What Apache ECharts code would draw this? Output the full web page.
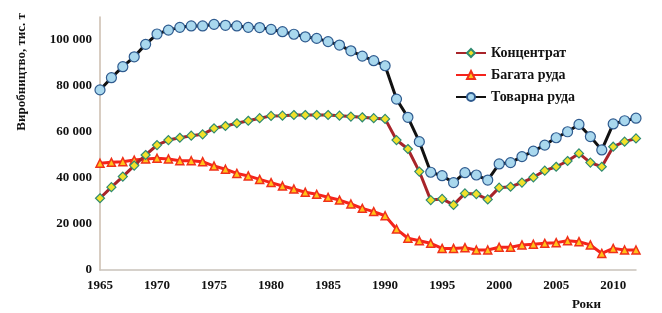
<!DOCTYPE html>
<html>
<head>
<meta charset="utf-8">
<script src="https://cdn.jsdelivr.net/npm/echarts@6/dist/echarts.min.js"></script>
<style>
  html, body { margin: 0; padding: 0; background: #fff; }
  #chart { width: 662px; height: 313px; }
</style>
</head>
<body>
<div id="chart"></div>
<script>
var years = [];
for (var y = 1965; y <= 2012; y++) years.push(y);

// Концентрат
var concentrate = [31200, 36000, 40600, 45400, 50000, 54300, 56500, 57500, 58400, 59000,
    61600, 62600, 63800, 64900, 66000, 67000, 67100, 67400, 67400, 67400,
    67400, 67100, 66700, 66400, 66000, 65700, 56500, 52600, 42800, 30400,
    30900, 28300, 33300, 33000, 30700, 35800, 36200, 38000, 40300, 43200,
    44900, 47400, 50700, 46700, 44900, 53600, 55800, 57200];

// Багата руда
var richOre = [46400, 46800, 47100, 47800, 48300, 48600, 48300, 47500, 47500, 47100,
    45200, 43800, 42000, 40900, 39400, 38000, 36500, 35200, 33800, 32900,
    31600, 30400, 28700, 26800, 25400, 23600, 17800, 13800, 12700, 11600,
    9400, 9400, 9700, 8700, 8700, 9900, 9900, 10900, 11200, 11600,
    11900, 12700, 12300, 10900, 7200, 9400, 8700, 8700];

// Товарна руда
var marketOre = [78300, 83600, 88400, 92700, 98100, 102600, 104300, 105500, 106100, 106100,
    106800, 106400, 106100, 105500, 105400, 104600, 103600, 102500, 101400, 100700,
    99300, 97800, 95300, 93000, 91000, 88800, 74300, 66400, 55800, 42500,
    41000, 38000, 42300, 41300, 39100, 46100, 46700, 49300, 51700, 54300,
    57500, 60100, 63300, 58000, 52200, 63500, 64900, 66000];

function pairs(vals) {
    return years.map(function (yr, i) { return [yr, vals[i]]; });
}

var font = 'Liberation Serif';
var chart = echarts.init(document.getElementById('chart'));
chart.setOption({
    animation: false,
    backgroundColor: '#fff',
    grid: { left: 100, right: 26, top: 17, bottom: 43 },
    legend: {
        orient: 'vertical',
        left: 450,
        top: 41,
        itemWidth: 30,
        itemHeight: 10,
        itemGap: 8,
        textStyle: { fontFamily: font, fontWeight: 'bold', fontSize: 14, color: '#111', lineHeight: 14 },
        data: ['Концентрат', 'Багата руда', 'Товарна руда']
    },
    xAxis: {
        type: 'value',
        min: 1965,
        max: 2012,
        interval: 5,
        splitLine: { show: false },
        axisTick: { show: false },
        axisLine: { lineStyle: { color: '#c9c2ba', width: 1.5 } },
        axisLabel: {
            showMaxLabel: false,
            margin: 9,
            fontFamily: font, fontWeight: 'bold', fontSize: 13, color: '#111',
            formatter: function (v) { return String(v); }
        }
    },
    yAxis: {
        type: 'value',
        min: 0,
        max: 110000,
        interval: 20000,
        splitLine: { show: false },
        axisTick: { show: false },
        axisLine: { show: true, lineStyle: { color: '#cbbcae', width: 1.5 } },
        axisLabel: {
            showMaxLabel: false,
            margin: 8,
            fontFamily: font, fontWeight: 'bold', fontSize: 13, color: '#111',
            formatter: function (v) {
                return String(v).replace(/\B(?=(\d{3})+(?!\d))/g, ' ');
            }
        }
    },
    graphic: [
        {
            type: 'text',
            left: 15,
            top: 13,
            rotation: Math.PI / 2,
            style: {
                text: 'Виробництво, тис. т',
                fontFamily: font, fontWeight: 'bold', fontSize: 13, fill: '#111'
            }
        },
        {
            type: 'text',
            left: 572,
            top: 298,
            style: {
                text: 'Роки',
                fontFamily: font, fontWeight: 'bold', fontSize: 13, fill: '#111'
            }
        }
    ],
    series: [
        {
            name: 'Багата руда',
            type: 'line',
            data: pairs(richOre),
            symbol: 'triangle',
            symbolSize: 8,
            lineStyle: { color: '#f5231c', width: 3 },
            itemStyle: { color: '#ffc21a', borderColor: '#f0301a', borderWidth: 1.5 },
            z: 2
        },
        {
            name: 'Товарна руда',
            type: 'line',
            data: pairs(marketOre),
            symbol: 'circle',
            symbolSize: 10,
            lineStyle: { color: '#111', width: 3 },
            itemStyle: { color: '#a9d8ee', borderColor: '#2f5b8f', borderWidth: 1.2 },
            z: 3
        },
        {
            name: 'Концентрат',
            type: 'line',
            data: pairs(concentrate),
            symbol: 'diamond',
            symbolSize: 9,
            lineStyle: { color: '#a8242a', width: 3 },
            itemStyle: { color: '#f2e12a', borderColor: '#2f8a70', borderWidth: 1.2 },
            z: 4
        }
    ]
});
</script>
</body>
</html>
